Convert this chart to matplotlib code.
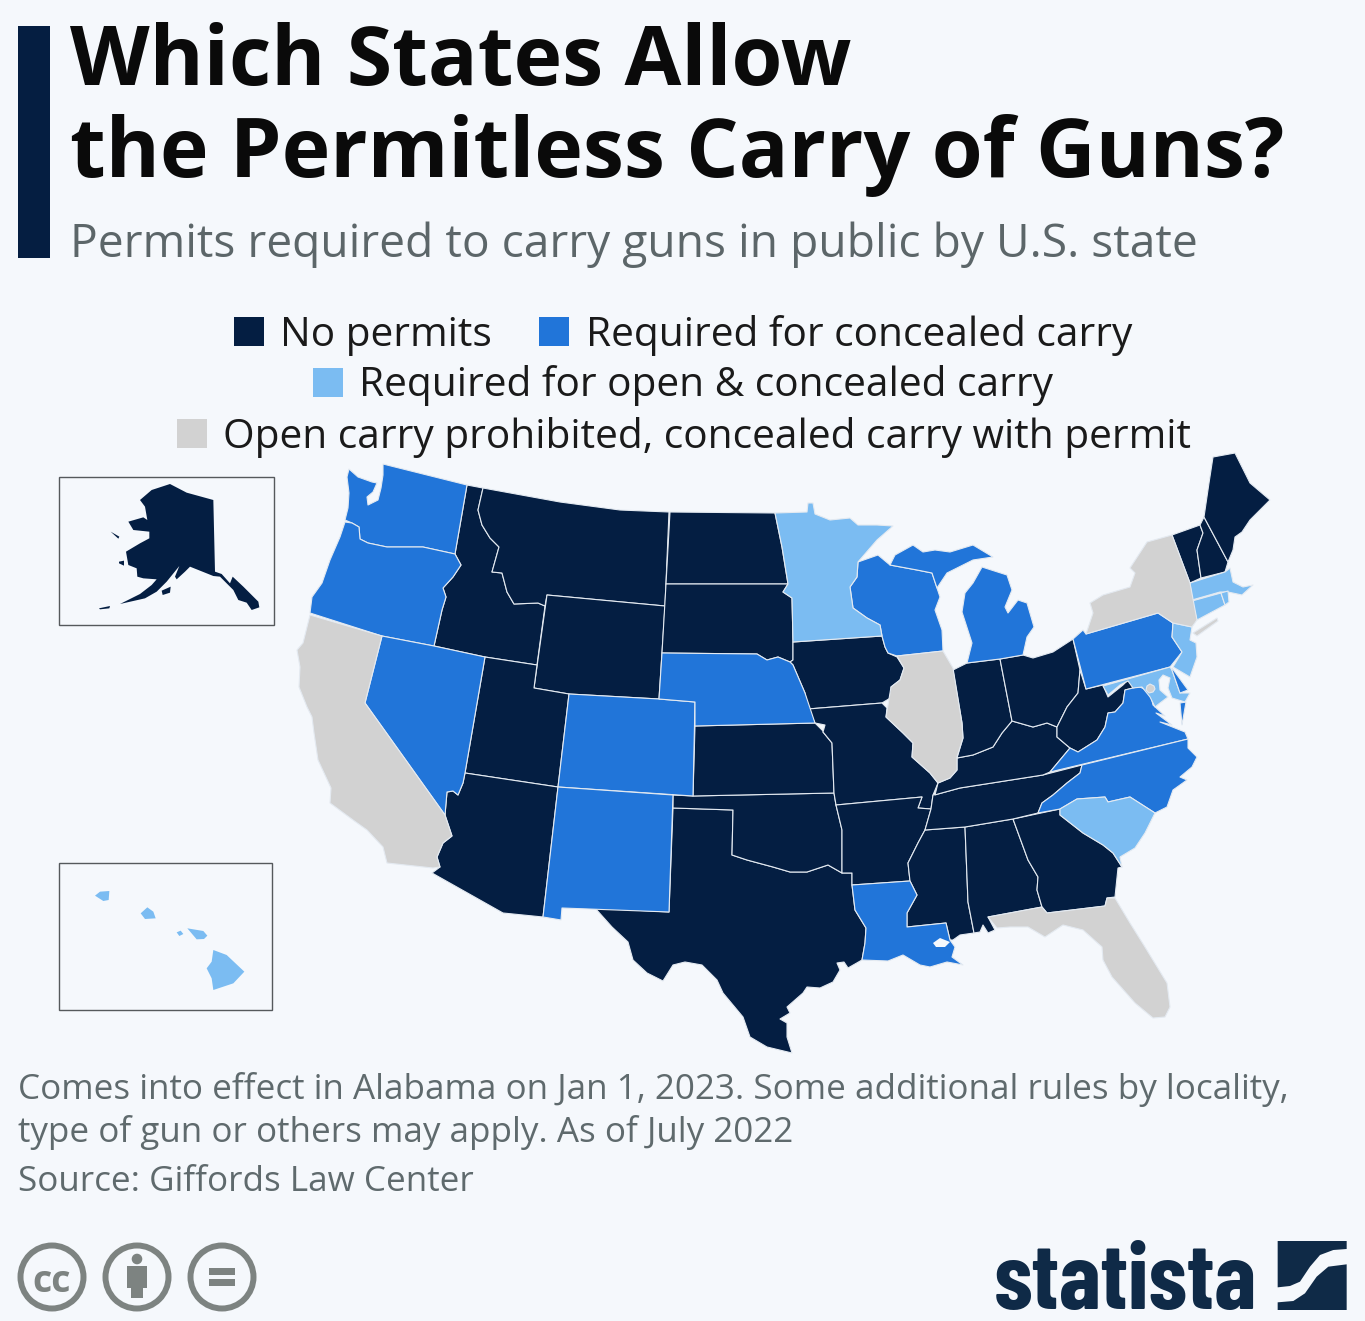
import numpy as np
import matplotlib
matplotlib.use("Agg")
import matplotlib.pyplot as plt
from matplotlib import font_manager as fm
from matplotlib.patches import Polygon, Rectangle, Circle

BG = '#f5f8fc'
NAVY = '#041e42'
BLUE = '#2175d9'
LIGHT = '#7bbcf2'
GRAY = '#d2d2d2'

TITLE_LINES = ["Which States Allow", "the Permitless Carry of Guns?"]
SUBTITLE = "Permits required to carry guns in public by U.S. state"
LEGEND_LABELS = ["No permits", "Required for concealed carry",
                 "Required for open & concealed carry",
                 "Open carry prohibited, concealed carry with permit"]
FOOT_LINES = ["Comes into effect in Alabama on Jan 1, 2023. Some additional rules by locality,",
              "type of gun or others may apply. As of July 2022"]
SOURCE = "Source: Giffords Law Center"

WA = [(383,464),(467,485),(455,554),(423,547),(403,547),(387,547),(368,543),(360,539),(359,527),(352,523),(345,520),(348,508),(349,493),(347,477),(349,469),(358,477),(372,482),(377,483),(373,492),(367,497),(368,505),(378,500),(381,488),(383,475)]
OR = [(345,522),(352,523),(359,527),(360,539),(368,543),(387,547),(403,547),(423,547),(455,554),(461,565),(453,577),(443,588),(446,597),(442,610),(434,646),(382,636),(310,613),(312,597),(322,583),(330,560),(340,537)]
CA = [(310,615),(382,636),(365,703),(445,815),(452,836),(443,843),(437,857),(440,867),(433,868),(387,863),(383,847),(367,830),(353,820),(330,803),(331,788),(318,760),(314,733),(312,717),(307,707),(299,687),(300,667),(297,650),(303,643)]
NV = [(382,636),(434,646),(485,657),(465,773),(463,783),(458,795),(453,791),(447,792),(445,815),(365,703)]
AZ = [(447,792),(453,791),(458,795),(463,783),(465,773),(558,787),(543,917),(503,913),(432,873),(440,867),(437,857),(443,843),(452,836),(445,815)]
UT = [(485,657),(537,665),(534,688),(569,694),(558,787),(465,773)]
ID = [(467,485),(483,488),(478,510),(482,525),(490,538),(499,547),(492,572),(502,573),(507,592),(514,604),(538,603),(545,606),(537,665),(485,657),(434,646),(442,610),(446,597),(443,588),(453,577),(461,565),(455,554)]
MT = [(483,488),(560,502),(620,510),(669,512),(665,606),(547,595),(545,606),(538,603),(514,604),(507,592),(502,573),(492,572),(499,547),(490,538),(482,525),(478,510)]
WY = [(547,595),(665,606),(659,699),(569,694),(534,688)]
ND = [(670,512),(775,513),(782,547),(788,584),(666,584)]
SD = [(666,584),(788,584),(783,592),(792,598),(793,642),(793,660),(790,662),(778,657),(767,660),(757,654),(662,653)]
NE = [(662,653),(757,654),(767,660),(778,657),(790,662),(793,665),(805,693),(815,723),(695,726),(695,702),(659,699)]
CO = [(569,694),(659,699),(695,702),(693,796),(558,787)]
NM = [(558,787),(673,795),(669,912),(562,908),(561,920),(543,917)]
KS = [(695,726),(815,723),(825,733),(823,732),(832,743),(834,793),(693,796)]
OK = [(673,795),(693,796),(834,793),(836,805),(842,830),(842,873),(828,865),(807,872),(790,872),(773,867),(747,860),(732,855),(733,810),(673,808)]
TX = [(673,808),(733,810),(732,855),(747,860),(773,867),(790,872),(807,872),(828,865),(842,873),(852,873),(852,885),(855,910),(866,928),(865,943),(862,960),(848,968),(844,962),(837,963),(840,970),(833,982),(820,988),(807,987),(803,993),(787,1007),(790,1013),(780,1019),(787,1023),(787,1037),(792,1053),(767,1047),(750,1037),(743,1017),(723,993),(717,980),(702,965),(685,962),(673,965),(663,981),(647,973),(633,960),(628,942),(612,927),(595,908),(669,912)]
LA = [(852,885),(910,881),(917,895),(907,913),(907,927),(946,923),(950,940),(955,947),(952,957),(963,965),(947,962),(930,967),(920,965),(903,955),(888,961),(862,960),(865,943),(866,928),(855,910)]
AR = [(836,805),(922,797),(918,808),(931,809),(925,830),(918,843),(908,863),(910,881),(852,885),(852,873),(842,873),(842,830)]
MO = [(808,709),(882,703),(887,708),(886,717),(903,733),(913,743),(912,757),(930,773),(938,783),(933,795),(931,809),(918,808),(922,797),(836,805),(834,793),(832,743),(823,732),(825,725),(815,723)]
IA = [(793,642),(882,636),(885,647),(888,653),(897,657),(904,668),(900,680),(891,687),(892,697),(882,703),(808,709),(805,693),(793,665),(790,662),(793,660)]
MN = [(775,513),(807,512),(808,503),(813,503),(815,514),(830,520),(850,518),(858,525),(877,525),(893,526),(877,540),(858,562),(857,577),(850,587),(853,608),(867,618),(880,625),(882,636),(793,642),(792,598),(783,592),(788,584),(782,547)]
WI = [(858,562),(878,555),(890,565),(917,570),(932,573),(937,588),(940,597),(935,610),(942,630),(943,651),(897,656),(888,653),(885,647),(882,636),(880,625),(867,618),(853,608),(850,587),(857,577)]
MI_UP = [(890,565),(895,555),(913,545),(923,552),(935,550),(950,552),(973,545),(993,557),(973,560),(947,573),(937,588),(932,573),(917,570)]
MI_LP = [(967,663),(1000,659),(1023,655),(1027,637),(1034,627),(1027,603),(1018,600),(1008,613),(1005,607),(1012,590),(1007,575),(982,567),(973,583),(965,593),(962,612),(972,643)]
IL = [(897,656),(943,651),(953,668),(962,723),(963,738),(957,757),(957,770),(950,778),(938,783),(930,773),(912,757),(913,743),(903,733),(886,717),(890,693),(891,687),(900,680),(904,668)]
IN = [(953,670),(967,663),(1000,659),(1012,721),(1002,733),(993,747),(973,755),(957,758),(963,738),(962,723)]
OH = [(1000,659),(1023,655),(1033,658),(1053,652),(1073,639),(1080,670),(1078,693),(1067,707),(1057,727),(1047,723),(1033,727),(1012,721)]
PA = [(1073,639),(1083,630),(1086,634),(1158,613),(1173,623),(1172,637),(1182,652),(1170,667),(1086,689)]
NY = [(1086,634),(1093,613),(1090,603),(1103,595),(1130,587),(1135,573),(1130,568),(1147,542),(1172,535),(1190,583),(1197,620),(1192,627),(1173,623),(1158,613)]
LONG_ISLAND = [(1193,633),(1217,618),(1218,621),(1197,636)]
VT = [(1172,535),(1200,525),(1203,533),(1197,550),(1201,578),(1190,583)]
NH = [(1200,525),(1204,517),(1228,562),(1225,572),(1201,578),(1197,550),(1203,533)]
ME = [(1204,517),(1209,483),(1213,457),(1235,453),(1250,483),(1270,500),(1260,510),(1250,520),(1242,532),(1235,537),(1233,550),(1228,562)]
MA = [(1190,583),(1225,572),(1230,568),(1233,582),(1243,587),(1253,585),(1242,595),(1228,592),(1220,592),(1192,600)]
CT = [(1192,601),(1221,593),(1225,605),(1197,620)]
RI = [(1221,593),(1228,591),(1229,602),(1225,605)]
NJ = [(1173,623),(1192,627),(1190,640),(1196,643),(1197,657),(1190,677),(1173,667),(1182,652),(1172,637)]
DE = [(1172,668),(1188,690),(1180,693),(1172,670)]
MD = [(1103,686),(1170,667),(1172,670),(1180,693),(1190,693),(1185,702),(1172,698),(1168,688),(1170,678),(1163,675),(1159,680),(1160,690),(1168,697),(1160,703),(1155,707),(1150,697),(1142,687),(1133,688),(1128,681),(1120,685),(1108,695)]
DC = [(1150,684),(1154,686),(1155,689),(1153,692),(1149,693),(1146,690),(1147,686)]
WV = [(1080,670),(1086,689),(1103,685),(1108,697),(1123,685),(1128,680),(1137,687),(1125,690),(1123,703),(1115,712),(1108,713),(1105,727),(1097,740),(1078,752),(1070,748),(1057,737),(1057,727),(1067,707),(1078,693)]
VA = [(1050,772),(1070,748),(1078,752),(1097,740),(1105,727),(1108,713),(1115,712),(1123,703),(1125,690),(1137,687),(1140,687),(1150,692),(1153,705),(1165,716),(1156,713),(1172,725),(1160,722),(1185,732),(1188,739)]
VA_SHORE = [(1180,703),(1186,702),(1182,725)]
KY = [(935,795),(938,783),(950,778),(957,770),(957,758),(973,755),(993,747),(1002,733),(1012,721),(1033,727),(1047,723),(1057,727),(1057,737),(1070,748),(1050,772),(1043,775),(960,788),(938,794)]
TN = [(925,830),(931,809),(933,795),(938,794),(960,788),(1043,775),(1082,765),(1080,773),(1067,783),(1053,795),(1042,803),(1038,813),(1013,819),(965,827)]
NC = [(1082,765),(1188,739),(1188,748),(1197,757),(1192,767),(1180,777),(1187,780),(1173,790),(1167,807),(1155,813),(1130,797),(1108,802),(1105,797),(1077,799),(1060,809),(1038,813),(1042,803),(1053,795),(1067,783),(1080,773)]
SC = [(1060,809),(1077,799),(1105,797),(1108,802),(1130,797),(1155,813),(1145,833),(1135,848),(1120,857),(1122,867),(1113,853),(1103,845),(1083,833),(1060,815)]
GA = [(1013,819),(1060,809),(1060,815),(1083,833),(1103,845),(1113,853),(1122,867),(1118,868),(1115,897),(1107,898),(1105,906),(1047,913),(1042,907),(1037,890),(1038,877),(1028,860)]
AL = [(965,827),(1013,819),(1028,860),(1038,877),(1037,890),(1042,907),(988,917),(995,930),(988,933),(983,925),(980,932),(974,933),(968,902)]
MS = [(925,830),(965,827),(968,902),(974,933),(960,935),(953,940),(950,940),(946,923),(907,927),(907,913),(917,895),(910,881),(908,863),(918,843)]
FL = [(988,917),(1042,907),(1047,913),(1105,906),(1107,898),(1115,898),(1130,923),(1145,947),(1167,983),(1170,1007),(1165,1017),(1153,1018),(1135,1003),(1112,977),(1103,960),(1102,947),(1083,930),(1063,925),(1045,937),(1028,927),(1010,927),(997,928)]
LAKE_PONT = [(933,943),(940,938),(950,942),(945,947),(936,947)]

# Insets, read in crop units of 1/3 pixel
AK_MAIN = [(270,90),(305,60),(360,42),(410,68),(490,90),(495,305),(515,312),(540,340),(548,320),(580,350),(625,395),(628,412),(605,420),(590,398),(565,390),(550,360),(510,320),(490,318),(420,290),(405,305),(380,328),(375,320),(388,288),(350,335),(320,365),(285,385),(210,402),(270,372),(305,345),(320,328),(280,325),(262,320),(260,295),(235,285),(228,245),(270,220),(298,205),(298,185),(250,180),(235,155),(280,142),(292,150),(285,110)]
AK_ISLE1 = [(182,185),(208,200),(205,206)]
AK_ISLE2 = [(207,275),(222,272),(222,287),(207,280)]
AK_ISLE3 = [(335,362),(362,350),(360,368),(338,375)]
AK_ISLE4 = [(147,415),(180,408),(178,415),(150,418)]
HI_1 = [(135,122),(150,110),(178,108),(176,135),(160,138)]
HI_2 = [(272,175),(292,157),(310,170),(317,190),(285,192)]
HI_3 = [(380,232),(392,227),(400,237),(388,243)]
HI_4 = [(412,220),(460,228),(472,242),(462,252),(440,253)]
HI_5 = [(490,285),(530,300),(583,350),(550,385),(490,405),(485,370),(470,340),(485,320)]

NO_PERMITS = [ID, MT, WY, ND, SD, UT, AZ, TX, OK, KS, IA, MO, AR, MS, AL, GA, TN, KY, IN, OH, WV, VT, NH, ME]
CONCEALED = [WA, OR, NV, CO, NM, NE, LA, WI, MI_UP, MI_LP, PA, VA, VA_SHORE, NC]
OPEN_CONCEALED = [MN, SC, MA, CT, RI, NJ, MD]
PROHIBITED = [CA, IL, NY, LONG_ISLAND, FL, DC]
LATE_CONCEALED = [DE]
AK_PARTS = [AK_MAIN, AK_ISLE1, AK_ISLE2, AK_ISLE3, AK_ISLE4]
HI_PARTS = [HI_1, HI_2, HI_3, HI_4, HI_5]

LOGO_UPPER = [(893,48),(1100,48),(1100,72),(1060,75),(1020,90),(990,125),(960,170),(930,183),(893,187)]
LOGO_LOWER = [(1100,118),(1100,255),(893,255),(893,232),(940,228),(975,205),(1010,155),(1045,125)]
LOGO_FONTS = ['Barlow Condensed', 'PT Sans Narrow', 'Archivo Narrow', 'Roboto Condensed', 'Fjalla One', 'Liberation Sans']

W, H = 1365, 1321
plt.rcParams['font.family'] = ['Open Sans', 'DejaVu Sans']
fig = plt.figure(figsize=(W/100, H/100), dpi=100, facecolor=BG)
ax = fig.add_axes([0, 0, 1, 1])
ax.set_xlim(0, W); ax.set_ylim(H, 0); ax.axis('off')

ax.add_patch(Rectangle((18, 26), 32, 232, fc='#051e41', ec='none'))
ax.text(70, 85, TITLE_LINES[0], fontsize=59.35, fontweight='bold', color='#0a0a0a', va='baseline')
ax.text(70, 177, TITLE_LINES[1], fontsize=59.35, fontweight='bold', color='#0a0a0a', va='baseline')
ax.text(70, 257, SUBTITLE, fontsize=33.2, color='#5c6669', va='baseline')

SWATCHES = [(234, 317, NAVY), (539, 317, BLUE), (313, 368, LIGHT), (177, 419, GRAY)]
LABEL_POS = [(280, 345.5), (586, 345.5), (359, 396.5), (223, 448.5)]
for (sx, sy, col), (lx, ly), lab in zip(SWATCHES, LABEL_POS, LEGEND_LABELS):
    ax.add_patch(Rectangle((sx, sy), 30, 29, fc=col, ec='none'))
    ax.text(lx, ly, lab, fontsize=29.23, color='#1a1a1a', va='baseline')

for group, col in [(NO_PERMITS, NAVY), (CONCEALED, BLUE), (OPEN_CONCEALED, LIGHT), (PROHIBITED, GRAY), (LATE_CONCEALED, BLUE)]:
    for poly in group:
        ax.add_patch(Polygon(poly, closed=True, fc=col, ec='#e4eaf1', lw=0.8, joinstyle='round'))
ax.add_patch(Polygon(LAKE_PONT, closed=True, fc=BG, ec='none'))

ax.add_patch(Rectangle((59, 477), 215, 148, fc='none', ec='#55595c', lw=1))
ax.add_patch(Rectangle((59, 863), 213, 147, fc='none', ec='#55595c', lw=1))
for poly in AK_PARTS:
    pts = [(50 + x/3, 470 + y/3) for x, y in poly]
    ax.add_patch(Polygon(pts, closed=True, fc=NAVY, ec='none'))
for poly in HI_PARTS:
    pts = [(50 + x/3, 855 + y/3) for x, y in poly]
    ax.add_patch(Polygon(pts, closed=True, fc=LIGHT, ec='none'))

ax.text(18, 1099, FOOT_LINES[0], fontsize=25.2, color='#5f6a6d', va='baseline')
ax.text(18, 1142, FOOT_LINES[1], fontsize=25.2, color='#5f6a6d', va='baseline')
ax.text(18, 1191, SOURCE, fontsize=25.2, color='#5f6a6d', va='baseline')

ICON = '#7d8381'
for cx in (52, 137, 222):
    ax.add_patch(Circle((cx, 1277), 31.5, fc='none', ec=ICON, lw=4.3))
ax.text(52, 1277, "cc", fontsize=27, fontweight='bold', color=ICON, ha='center', va='center_baseline')
ax.add_patch(Circle((137, 1259), 5.3, fc=ICON, ec='none'))
ax.add_patch(Rectangle((127, 1266), 20, 22, fc=ICON, ec='none'))
ax.add_patch(Rectangle((131, 1285), 12, 13, fc=ICON, ec='none'))
ax.add_patch(Rectangle((209, 1268), 26, 7, fc=ICON, ec='none'))
ax.add_patch(Rectangle((209, 1279), 26, 7, fc=ICON, ec='none'))

LOGO = '#0f2a47'
installed = {f.name for f in fm.fontManager.ttflist}
logo_font = next(n for n in LOGO_FONTS if n in installed)
logo = ax.text(994, 1309, "statista", fontsize=60, color=LOGO, va='baseline', family=[logo_font],
               fontweight='bold')
fig.canvas.draw()
ext = logo.get_window_extent(fig.canvas.get_renderer())
logo.set_fontsize(60 * 263 / ext.width)
for poly in (LOGO_UPPER, LOGO_LOWER):
    pts = [(980 + x/3, 1225 + y/3) for x, y in poly]
    ax.add_patch(Polygon(pts, closed=True, fc=LOGO, ec='none'))

fig.savefig('out.png', dpi=100, facecolor=BG)
